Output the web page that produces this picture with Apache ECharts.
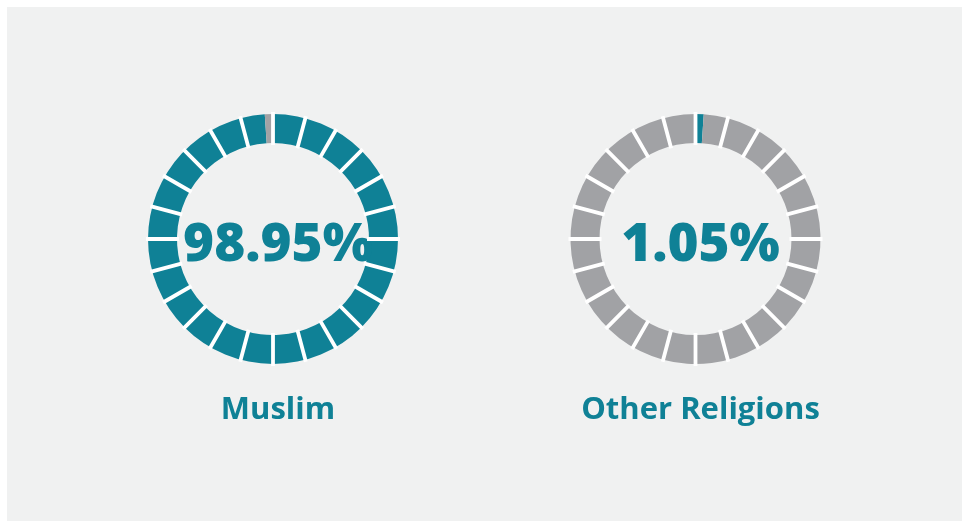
<!DOCTYPE html>
<html>
<head>
<meta charset="utf-8">
<script src="https://cdn.jsdelivr.net/npm/echarts@6/dist/echarts.min.js"></script>
<style>
  html, body { margin: 0; padding: 0; background: #ffffff; }
  #panel { position: absolute; left: 7px; top: 7px; width: 955px; height: 514px; background: #f0f1f1; }
  #chart { position: absolute; left: 0; top: 0; width: 968px; height: 525px; }
</style>
</head>
<body>
<div id="panel"></div>
<div id="chart"></div>
<script>
const categories = ['Muslim', 'Other Religions'];
const shares = [98.95, 1.05];
const valueLabels = ['98.95%', '1.05%'];
const segmentCount = 24;

const TEAL = '#0f8196';
const GRAY = '#a1a2a5';
const centersX = ['273', '695.5'];
const centerY = 239;
const rInner = 96, rOuter = 125;

const series = [];
const polar = [];
const angleAxis = [];
const radiusAxis = [];
const title = [];

categories.forEach((name, i) => {
  series.push({
    type: 'pie',
    center: [centersX[i], centerY],
    radius: [rInner, rOuter],
    startAngle: 90,
    clockwise: true,
    silent: true,
    label: { show: false },
    labelLine: { show: false },
    itemStyle: { borderWidth: 0 },
    data: [
      { name: name, value: shares[i], itemStyle: { color: TEAL } },
      { name: 'rest', value: +(100 - shares[i]).toFixed(2), itemStyle: { color: GRAY } }
    ]
  });
  polar.push({ center: [centersX[i], centerY], radius: [rInner - 2, rOuter + 2] });
  angleAxis.push({
    polarIndex: i,
    type: 'value',
    min: 0,
    max: segmentCount,
    interval: 1,
    startAngle: 90,
    z: 10,
    axisLine: { show: false },
    axisTick: { show: false },
    axisLabel: { show: false },
    splitLine: { show: true, lineStyle: { color: '#ffffff', width: 3.8 } }
  });
  radiusAxis.push({ polarIndex: i, show: false, min: 0, max: 1 });
  title.push({
    text: valueLabels[i],
    left: centersX[i],
    top: centerY + 2,
    textAlign: 'center',
    textVerticalAlign: 'middle',
    textStyle: { color: TEAL, fontFamily: 'Open Sans', fontWeight: 800, fontSize: 53 }
  });
  title.push({
    text: name,
    left: centersX[i],
    top: 405,
    textAlign: 'center',
    textVerticalAlign: 'middle',
    textStyle: { color: TEAL, fontFamily: 'Open Sans', fontWeight: 700, fontSize: 31 }
  });
});

const chart = echarts.init(document.getElementById('chart'));
chart.setOption({
  backgroundColor: 'transparent',
  animation: false,
  title, polar, angleAxis, radiusAxis, series
});
</script>
</body>
</html>
